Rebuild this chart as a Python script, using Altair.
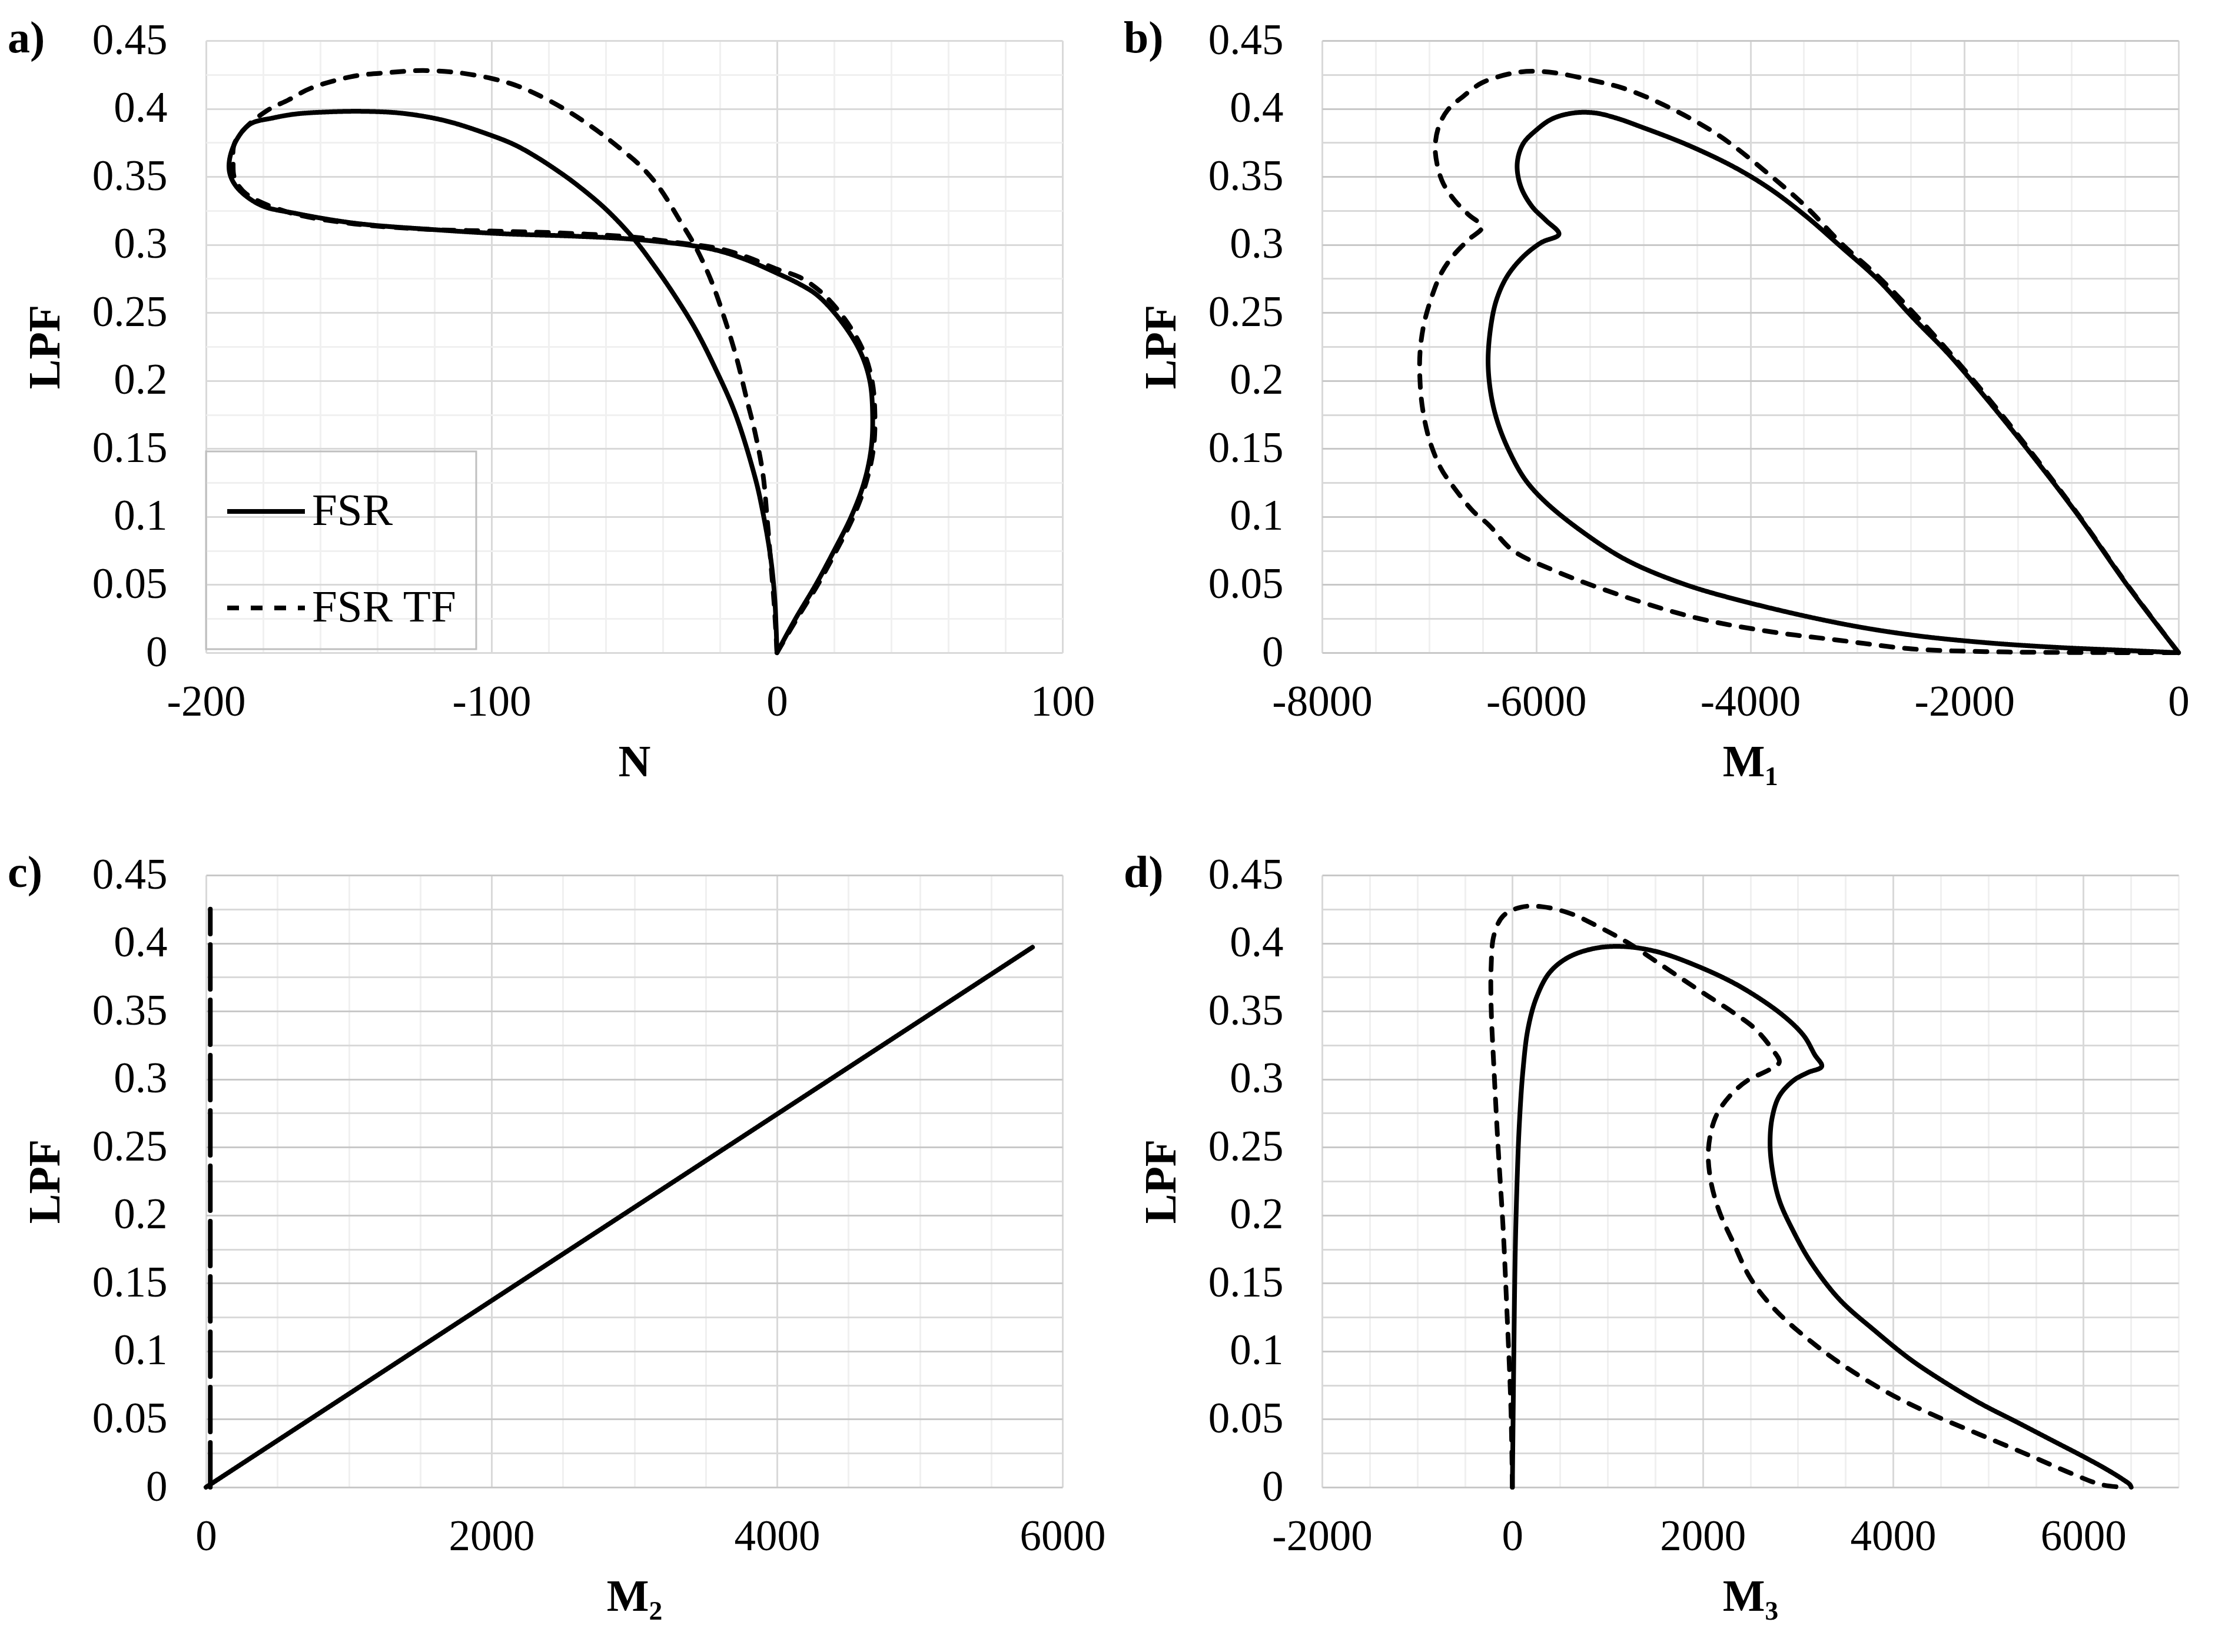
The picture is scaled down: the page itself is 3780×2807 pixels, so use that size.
import altair as alt
import pandas as pd

FONT = "Liberation Serif"
SERIES = ["FSR", "FSR TF"]

# ---------------- panel a) N ----------------
A_FSR_N = [0, 6.5, 13.6, 20, 26, 30.5, 33, 33.5, 32.5, 29,
           22, 14, 7, 0, -10.3, -20.4, -30.5, -50.6, -70.8, -96,
           -120, -147.4, -168.7, -180.6, -188.5, -191.5, -191.8, -189.3, -184.5, -176.6,
           -168.7, -158, -145, -131, -116, -101, -92, -84.3, -77, -70.4,
           -59.9, -50.2, -42.5, -35.5, -28.6, -21.6, -14.6, -7.7, -5.3, -2.3,
           -0.8, 0]
A_FSR_LPF = [0, 0.025, 0.05, 0.075, 0.1, 0.125, 0.15, 0.175, 0.2, 0.222,
             0.245, 0.263, 0.272, 0.279, 0.2885, 0.2955, 0.2995, 0.304, 0.3062, 0.308,
             0.311, 0.3156, 0.323, 0.3288, 0.3405, 0.351, 0.362, 0.377, 0.3887, 0.3931,
             0.396, 0.3975, 0.398, 0.3965, 0.391, 0.381, 0.3735, 0.3645, 0.3545, 0.3445,
             0.326, 0.3044, 0.283, 0.2615, 0.238, 0.209, 0.1757, 0.129, 0.107, 0.071,
             0.04, 0]
A_TF_N = [0, 7, 14.3, 20.8, 26.8, 31.2, 33.8, 34.3, 33.3, 30,
          23.5, 15.5, 8, 0, -10, -20, -35, -50, -75, -100,
          -125, -151, -171.5, -186, -190, -190.5, -190.1, -186.2, -178.3, -171.2,
          -163.3, -148.3, -136, -124, -112, -100, -92, -84.3, -73.9, -63.4,
          -55, -47.4, -41.1, -34.1, -28.6, -23, -18.1, -13.9, -10.5, -7.7,
          -4.9, -3.5, -2.2, -1, 0]
A_TF_LPF = [0, 0.025, 0.05, 0.075, 0.1, 0.125, 0.15, 0.175, 0.2, 0.223,
            0.246, 0.265, 0.276, 0.282, 0.2905, 0.297, 0.3015, 0.3055, 0.3085, 0.31,
            0.3115, 0.316, 0.324, 0.3375, 0.349, 0.36, 0.374, 0.3858, 0.399, 0.4063,
            0.415, 0.4238, 0.4265, 0.428, 0.4265, 0.4222, 0.4175, 0.4107, 0.399, 0.3844,
            0.3708, 0.3571, 0.3415, 0.318, 0.2986, 0.2733, 0.244, 0.2147, 0.1855, 0.162,
            0.131, 0.1, 0.067, 0.036, 0]

# ---------------- panel b) M1 ----------------
B_FSR_M1 = [0, -469, -937, -1406, -1807, -2142, -2477, -2811, -3146, -3481,
            -3815, -4150, -4591, -5017, -5250, -5450, -5650, -5850, -5996, -6123,
            -6177, -6145, -6038, -5911, -5787, -5953, -6123, -6272, -6368, -6421,
            -6449, -6421, -6357, -6251, -6102, -5911, -5570, -5154, -4618, -4016,
            -3146, -2477, -1807, -1138, -469, 0]
B_FSR_LPF = [0, 0.0485, 0.1009, 0.149, 0.188, 0.219, 0.246, 0.2745, 0.298, 0.321,
             0.341, 0.357, 0.3735, 0.3865, 0.393, 0.3968, 0.3968, 0.3925, 0.3844, 0.374,
             0.3595, 0.343, 0.328, 0.318, 0.3077, 0.3015, 0.291, 0.2766, 0.26, 0.2413,
             0.2143, 0.1894, 0.1687, 0.148, 0.1272, 0.1106, 0.089, 0.068, 0.0504, 0.0368,
             0.0213, 0.0128, 0.0074, 0.0039, 0.0016, 0]
B_TF_M1 = [0, -469, -937, -1406, -1807, -2142, -2477, -2811, -3146, -3481,
           -3815, -4294, -4762, -5166, -5489, -5823, -6024, -6225, -6506, -6677,
           -6826, -6911, -6943, -6921, -6868, -6762, -6634, -6506, -6634, -6783,
           -6889, -6974, -7049, -7085, -7085, -7060, -6996, -6889, -6762, -6591,
           -6443, -6225, -5823, -5154, -4485, -3815, -3146, -2477, -1807, -1138,
           0]
B_TF_LPF = [0, 0.049, 0.1015, 0.1505, 0.19, 0.221, 0.25, 0.277, 0.3006, 0.328,
            0.351, 0.3803, 0.401, 0.4145, 0.421, 0.4263, 0.4275, 0.426, 0.419, 0.4093,
            0.399, 0.3865, 0.372, 0.3575, 0.345, 0.3326, 0.3222, 0.3129, 0.3035, 0.2911,
            0.2786, 0.262, 0.2413, 0.2205, 0.1998, 0.179, 0.1562, 0.1354, 0.1208, 0.1042,
            0.094, 0.0756, 0.0601, 0.0407, 0.0252, 0.0155, 0.0089, 0.0027, 0.0008, 0.0002,
            0]

# ---------------- panel c) M2 ----------------
C_FSR_M2 = [0, 5790]
C_FSR_LPF = [0, 0.397]
C_TF_M2 = [30, 30]
C_TF_LPF = [0, 0.425]

# ---------------- panel d) M3 ----------------
D_FSR_M3 = [0, 15, 30, 52, 74, 112, 164, 253, 387, 573,
            833, 1131, 1503, 1949, 2396, 2842, 3065, 3177, 3251, 3103,
            2954, 2805, 2731, 2708, 2731, 2805, 2954, 3140, 3438, 3810,
            4182, 4554, 4926, 5298, 5670, 6042, 6265, 6414, 6488, 6503]
D_FSR_LPF = [0, 0.096, 0.1725, 0.23, 0.268, 0.307, 0.337, 0.36, 0.378, 0.389,
             0.3957, 0.3976, 0.394, 0.383, 0.368, 0.347, 0.3317, 0.318, 0.3094, 0.3048,
             0.299, 0.2876, 0.272, 0.253, 0.234, 0.211, 0.188, 0.165, 0.138, 0.115,
             0.094, 0.0767, 0.0613, 0.048, 0.0345, 0.021, 0.0123, 0.0058, 0.002, 0]
D_TF_M3 = [0, -15, -60, -97, -149, -193, -223, -223, -193, -97,
           89, 312, 610, 908, 1205, 1577, 1949, 2321, 2545, 2731,
           2805, 2693, 2470, 2284, 2135, 2061, 2083, 2173, 2321, 2507,
           2768, 3140, 3512, 3958, 4405, 4926, 5446, 5893, 6190, 6414]
D_TF_LPF = [0, 0.0575, 0.134, 0.19, 0.249, 0.307, 0.353, 0.383, 0.406, 0.42,
            0.4264, 0.4268, 0.4218, 0.412, 0.4007, 0.3834, 0.366, 0.349, 0.3374, 0.322,
            0.3125, 0.3067, 0.299, 0.2876, 0.272, 0.249, 0.226, 0.203, 0.18, 0.153,
            0.13, 0.107, 0.088, 0.069, 0.0537, 0.0383, 0.023, 0.0096, 0.0019, 0]

# ---------------- ticks ----------------
Y_MAJOR = [0, 0.05, 0.1, 0.15, 0.2, 0.25, 0.3, 0.35, 0.4, 0.45]
Y_MINOR = [0.025, 0.075, 0.125, 0.175, 0.225, 0.275, 0.325, 0.375, 0.425]

A_X_MAJOR = [-200, -100, 0, 100]
A_X_MINOR = [-180, -160, -140, -120, -80, -60, -40, -20, 20, 40, 60, 80]
B_X_MAJOR = [-8000, -6000, -4000, -2000, 0]
B_X_MINOR = [-7500, -7000, -6500, -5500, -5000, -4500, -3500, -3000, -2500,
             -1500, -1000, -500]
C_X_MAJOR = [0, 2000, 4000, 6000]
C_X_MINOR = [500, 1000, 1500, 2500, 3000, 3500, 4500, 5000, 5500]
D_X_MAJOR = [-2000, 0, 2000, 4000, 6000]
D_X_MINOR = [-1500, -1000, -500, 500, 1000, 1500, 2500, 3000, 3500, 4500,
             5000, 5500, 6500, 7000]

W, H = 1455, 1040
V_MAJ, V_MIN = "#d9d9d9", "#f0f0f0"


def make_df(x1, y1, x2, y2):
    rows = []
    for s, xs, ys in ((SERIES[0], x1, y1), (SERIES[1], x2, y2)):
        for i, (x, y) in enumerate(zip(xs, ys)):
            rows.append({"series": s, "i": i, "x": x, "y": y})
    return pd.DataFrame(rows)


def panel(df, xdom, xmajor, xminor, xtitle, label, hmaj, hmin, dash, legend):
    xscale = alt.Scale(domain=xdom, nice=False, zero=False)
    yscale = alt.Scale(domain=[0, 0.45], nice=False, zero=False)
    base = alt.Chart(df)
    minor = base.mark_line(strokeOpacity=0).encode(
        x=alt.X("x:Q", scale=xscale,
                axis=alt.Axis(orient="top", values=xminor, grid=True,
                              gridColor=V_MIN, gridWidth=3, labels=False,
                              ticks=False, domain=False, title=None)),
        y=alt.Y("y:Q", scale=yscale,
                axis=alt.Axis(orient="right", values=Y_MINOR, grid=True,
                              gridColor=hmin, gridWidth=3, labels=False,
                              ticks=False, domain=False, title=None)),
        detail="series:N",
        order="i:Q",
    )
    main = base.mark_line(color="black", strokeWidth=8, strokeCap="round",
                          strokeJoin="round", interpolate="catmull-rom").encode(
        x=alt.X("x:Q", scale=xscale,
                axis=alt.Axis(orient="bottom", values=xmajor, grid=True,
                              gridColor=V_MAJ, gridWidth=3, ticks=False,
                              domain=False, labelPadding=48, titlePadding=28,
                              labelFlush=False, labelOverlap=False,
                              labelExpr="toString(datum.value)", title=xtitle)),
        y=alt.Y("y:Q", scale=yscale,
                axis=alt.Axis(orient="left", values=Y_MAJOR, grid=True,
                              gridColor=hmaj, gridWidth=3, ticks=False,
                              domain=False, labelPadding=66, titlePadding=40,
                              labelFlush=False, labelOverlap=False,
                              labelExpr="toString(datum.value)", title="LPF")),
        strokeDash=alt.StrokeDash("series:N",
                                  scale=alt.Scale(domain=SERIES, range=dash),
                                  legend=legend),
        order="i:Q",
    )
    return alt.layer(minor, main).resolve_axis(
        x="independent", y="independent"
    ).properties(
        width=W, height=H,
        title=alt.TitleParams(text=label, anchor="start", frame="group",
                              orient="top", offset=0, dx=-337, dy=109,
                              baseline="middle", font=FONT, fontSize=76,
                              fontWeight="bold", color="black"),
    )


DASH = [[1, 0], [20, 20]]
DASH_C = [[1, 0], [76, 18]]

legend_a = alt.Legend(orient="none", legendX=0, legendY=H - 342, title=None,
                      symbolType="stroke", symbolSize=17424,
                      symbolStrokeWidth=8, symbolStrokeColor="black",
                      strokeColor="#bfbfbf", padding=32, rowPadding=56,
                      labelOffset=8, labelFont=FONT, labelFontSize=77,
                      labelColor="black", labelLimit=600, direction="vertical")

pa = panel(make_df(A_FSR_N, A_FSR_LPF, A_TF_N, A_TF_LPF), [-200, 100],
           A_X_MAJOR, A_X_MINOR, "N", "a)", "#d9d9d9", "#f0f0f0", DASH, legend_a)
pb = panel(make_df(B_FSR_M1, B_FSR_LPF, B_TF_M1, B_TF_LPF), [-8000, 0],
           B_X_MAJOR, B_X_MINOR, "M\u2081", "b)", "#c8c8c8", "#d9d9d9", DASH, None)
pc = panel(make_df(C_FSR_M2, C_FSR_LPF, C_TF_M2, C_TF_LPF), [0, 6000],
           C_X_MAJOR, C_X_MINOR, "M\u2082", "c)", "#c8c8c8", "#d9d9d9", DASH_C, None)
pd_ = panel(make_df(D_FSR_M3, D_FSR_LPF, D_TF_M3, D_TF_LPF), [-2000, 7000],
            D_X_MAJOR, D_X_MINOR, "M\u2083", "d)", "#c8c8c8", "#d9d9d9", DASH, None)

chart = alt.concat(
    pa, pb, pc, pd_, columns=2, bounds="flush",
    spacing={"row": 378, "column": 441},
).resolve_scale(
    x="independent", y="independent", strokeDash="independent"
).properties(
    padding={"left": 5, "top": 20, "right": 5, "bottom": 5},
    background="white",
).configure_view(
    strokeWidth=0
).configure_axis(
    labelFont=FONT, labelFontSize=73, labelColor="black",
    titleFont=FONT, titleFontSize=76, titleFontWeight="bold", titleColor="black",
).configure_legend(
    strokeWidth=3
)

chart.save("out.html", embed_options={"renderer": "svg", "actions": False})
